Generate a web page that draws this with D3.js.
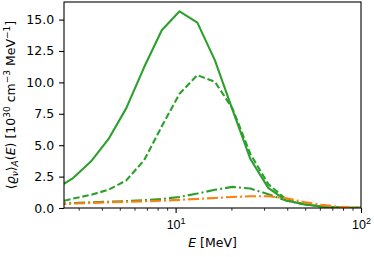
<!DOCTYPE html>
<html><head><meta charset="utf-8">
<script src="https://cdn.jsdelivr.net/npm/d3@7"></script>
<style>
body{margin:0;background:#fff;}
svg{display:block;font-family:"DejaVu Sans",sans-serif;}
</style></head>
<body><svg id="c" width="374" height="257"></svg>
<script>
const energies = [2.24, 2.80, 3.49, 4.35, 5.42, 6.76, 8.42, 10.5, 13.1, 16.3, 20.3, 25.3, 31.6, 39.4, 49.1, 61.2, 76.3, 95.0, 118.0];
const greenSolid = [1.5, 2.38, 3.7, 5.5, 7.95, 11.2, 14.15, 15.66, 14.76, 11.75, 7.8, 3.9, 1.6, 0.6, 0.3, 0.12, 0.03, 0.01, 0];
const greenDashed = [0.4, 0.75, 1.05, 1.45, 2.2, 3.8, 6.5, 9.1, 10.58, 10.05, 7.9, 4.3, 1.9, 0.7, 0.3, 0.12, 0.03, 0.01, 0];
const greenDashDot = [0.3, 0.4, 0.45, 0.5, 0.55, 0.62, 0.72, 0.88, 1.15, 1.45, 1.68, 1.55, 1.1, 0.6, 0.3, 0.12, 0.04, 0.01, 0];
const orangeDashDot = [0.3, 0.35, 0.4, 0.45, 0.5, 0.53, 0.58, 0.65, 0.72, 0.8, 0.88, 0.93, 0.93, 0.78, 0.48, 0.25, 0.1, 0.03, 0.01];
const yTicks = [0, 2.5, 5, 7.5, 10, 12.5, 15];
const xMajor = [10, 100];
const xMinor = [3,4,5,6,7,8,9,20,30,40,50,60,70,80,90];

const L=64, R=361, T=2, B=208;
const svg = d3.select("#c");
const x = d3.scaleLog().domain([2.5,100]).range([L,R]);
const y = d3.scaleLinear().domain([0,16.4]).range([B,T]);

svg.append("clipPath").attr("id","clip").append("rect")
  .attr("x",L).attr("y",T).attr("width",R-L).attr("height",B-T);

const line = d3.line().x(d=>x(d[0])).y(d=>y(d[1]));
const series = [
  {v:greenSolid, c:"#2ca02c", dash:null},
  {v:greenDashed, c:"#2ca02c", dash:"6.5,2.8"},
  {v:greenDashDot, c:"#2ca02c", dash:"11,3,2,3"},
  {v:orangeDashDot, c:"#ff7f0e", dash:"11,3,2,3"}
];
const g = svg.append("g").attr("clip-path","url(#clip)");
series.forEach(s=>{
  g.append("path").datum(energies.map((e,i)=>[e,s.v[i]]))
   .attr("d",line).attr("fill","none").attr("stroke",s.c)
   .attr("stroke-width",2.1).attr("stroke-linejoin","round")
   .attr("stroke-dasharray",s.dash);
});

// frame
svg.append("rect").attr("x",L).attr("y",T).attr("width",R-L).attr("height",B-T)
  .attr("fill","none").attr("stroke","#000").attr("stroke-width",1.1);

// y axis
const yAxis = d3.axisLeft(y).tickValues(yTicks).tickFormat(d3.format(".1f")).tickSize(4.9).tickPadding(4.9);
const ya = svg.append("g").attr("transform",`translate(${L},0)`).call(yAxis);
ya.select(".domain").remove();
ya.selectAll("text").attr("font-size",12.5).attr("font-family","DejaVu Sans").attr("fill","#000");
ya.selectAll("line").attr("stroke","#000").attr("stroke-width",1.1);

// x axis major
const xAxis = d3.axisBottom(x).tickValues(xMajor).tickFormat("").tickSize(4.9);
const xa = svg.append("g").attr("transform",`translate(0,${B})`).call(xAxis);
xa.select(".domain").remove();
xa.selectAll("line").attr("stroke","#000").attr("stroke-width",1.1);
xa.selectAll(".tick").each(function(d){
  const t = d3.select(this).append("text").attr("y",21).attr("text-anchor","middle")
    .attr("font-size",12.5).attr("fill","#000");
  t.append("tspan").text("10");
  t.append("tspan").attr("dy",-5).attr("font-size",9).text(Math.round(Math.log10(d)));
});
// x minor
const xm = d3.axisBottom(x).tickValues(xMinor).tickFormat("").tickSize(2.8);
const xma = svg.append("g").attr("transform",`translate(0,${B})`).call(xm);
xma.select(".domain").remove();
xma.selectAll("line").attr("stroke","#000").attr("stroke-width",0.8);

// x label
const xl = svg.append("text").attr("x",(L+R)/2).attr("y",247).attr("text-anchor","middle")
  .attr("font-size",12.5).attr("fill","#000");
xl.append("tspan").attr("font-style","italic").text("E");
xl.append("tspan").text(" [MeV]");

// y label
const yl = svg.append("text").attr("transform",`translate(15,${(T+B)/2}) rotate(-90)`)
  .attr("text-anchor","middle").attr("font-size",12.5).attr("fill","#000");
yl.append("tspan").text("⟨");
yl.append("tspan").attr("font-style","italic").text("ϱ");
yl.append("tspan").attr("font-style","italic").attr("font-size",9).attr("dy",2.5).text("ν");
yl.append("tspan").attr("dy",-2.5).text("⟩");
yl.append("tspan").attr("font-style","italic").attr("font-size",9).attr("dy",2.5).text("A");
yl.append("tspan").attr("dy",-2.5).text("(");
yl.append("tspan").attr("font-style","italic").text("E");
yl.append("tspan").text(") [10");
yl.append("tspan").attr("font-size",9).attr("dy",-5).text("30");
yl.append("tspan").attr("dy",5).text(" cm");
yl.append("tspan").attr("font-size",9).attr("dy",-5).text("−3");
yl.append("tspan").attr("dy",5).text(" MeV");
yl.append("tspan").attr("font-size",9).attr("dy",-5).text("−1");
yl.append("tspan").attr("dy",5).text("]");
</script></body></html>
